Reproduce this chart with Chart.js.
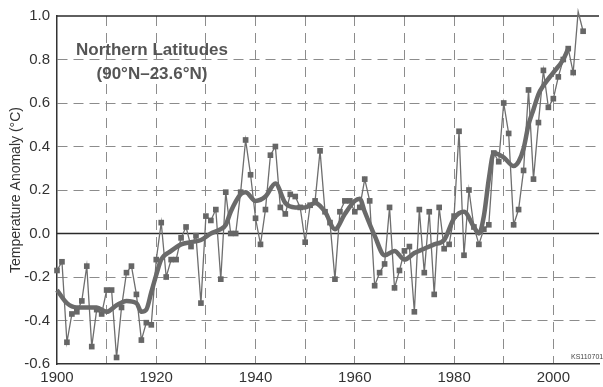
<!DOCTYPE html>
<html>
<head>
<meta charset="utf-8">
<script src="https://cdn.jsdelivr.net/npm/chart.js@4"></script>
<style>
  html, body { margin: 0; padding: 0; background: #fff; }
  #wrap { position: relative; width: 603px; height: 387px; }
  .note { position: absolute; font-family: 'Liberation Sans', Arial, sans-serif; color: #555; }
  #title { left: 62px; top: 38px; width: 180px; text-align: center; font-weight: bold; font-size: 17px; line-height: 24px; }
  #code { left: 571px; top: 353px; font-size: 7px; color: #444; }
</style>
</head>
<body>
<div id="wrap">
  <canvas id="chart" width="603" height="387"></canvas>
  <div id="title" class="note">Northern Latitudes<br>(90°N–23.6°N)</div>
  <div id="code" class="note">KS110701</div>
</div>
<script>
const firstYear = 1900;

// annual anomaly, 1900-2006
const annual = [
  -0.17, -0.13, -0.50, -0.37, -0.36, -0.31, -0.15, -0.52, -0.35, -0.37,
  -0.26, -0.26, -0.57, -0.34, -0.18, -0.15, -0.28, -0.49, -0.41, -0.42,
  -0.12, 0.05, -0.20, -0.12, -0.12, -0.02, 0.03, -0.06, -0.01, -0.32,
  0.08, 0.06, 0.11, -0.21, 0.19, 0.00, 0.00, 0.19, 0.43, 0.27,
  0.07, -0.05, 0.11, 0.36, 0.40, 0.12, 0.09, 0.18, 0.17, 0.12,
  -0.04, 0.13, 0.15, 0.38, 0.10, 0.05, -0.21, 0.10, 0.15, 0.15,
  0.10, 0.12, 0.25, 0.15, -0.24, -0.18, -0.14, 0.12, -0.25, -0.17,
  -0.08, -0.06, -0.36, 0.11, -0.18, 0.10, -0.28, 0.12, -0.07, -0.05,
  0.08, 0.47, -0.10, 0.20, 0.03, -0.05, 0.02, 0.04, 0.37, 0.33,
  0.60, 0.46, 0.04, 0.11, 0.29, 0.66, 0.25, 0.51, 0.75, 0.58,
  0.62, 0.72, 0.80, 0.85, 0.74, 1.02, 0.93
];

// smoothed curve
const smoothYears = [
  1900, 1902, 1904, 1906, 1908, 1910, 1912, 1914, 1916, 1917, 1918, 1919, 1920,
  1921, 1923, 1925, 1927, 1929, 1931, 1933, 1934, 1935, 1937, 1938, 1940, 1942,
  1944, 1946, 1948, 1950, 1952, 1954, 1956, 1958, 1960, 1961, 1962, 1964, 1966,
  1968, 1970, 1972, 1974, 1976, 1978, 1980, 1982, 1984, 1985, 1986, 1987, 1988,
  1990, 1992, 1993, 1994, 1995, 1996, 1997, 1998, 2000, 2002, 2003
];
const smoothValues = [
  -0.26, -0.32, -0.34, -0.34, -0.34, -0.36, -0.33, -0.31, -0.32, -0.36, -0.35, -0.27, -0.19,
  -0.12, -0.08, -0.05, -0.04, -0.03, 0.00, 0.02, 0.04, 0.10, 0.18, 0.19, 0.15, 0.17,
  0.23, 0.14, 0.12, 0.12, 0.14, 0.10, 0.02, 0.09, 0.15, 0.16, 0.10, -0.01, -0.10,
  -0.08, -0.12, -0.09, -0.07, -0.05, -0.03, 0.07, 0.10, 0.03, 0.00, 0.08, 0.25, 0.37,
  0.35, 0.31, 0.33, 0.39, 0.50, 0.57, 0.64, 0.68, 0.74, 0.80, 0.85
];

const xTicks = [1900, 1910, 1920, 1930, 1940, 1950, 1960, 1970, 1980, 1990, 2000];
const xLabels = [1900, 1920, 1940, 1960, 1980, 2000];
const yTicks = [-0.6, -0.4, -0.2, 0, 0.2, 0.4, 0.6, 0.8, 1.0];

const annualPoints = annual.map((v, i) => ({ x: firstYear + i, y: v }));
const smoothPoints = smoothYears.map((yr, i) => ({ x: yr, y: smoothValues[i] }));

// solid lines at 0.0 and 1.0
const refLines = {
  id: 'refLines',
  beforeDatasetsDraw(chart) {
    const { ctx, chartArea, scales } = chart;
    ctx.save();
    ctx.strokeStyle = '#2a2a2a';
    ctx.lineWidth = 1.5;
    [0, 1.0].forEach(v => {
      const y = scales.y.getPixelForValue(v);
      ctx.beginPath();
      ctx.moveTo(chartArea.left, y);
      ctx.lineTo(chartArea.right, y);
      ctx.stroke();
    });
    ctx.restore();
  }
};

const font = { family: "'Liberation Sans', Arial, sans-serif", size: 15 };

new Chart(document.getElementById('chart'), {
  type: 'line',
  data: {
    datasets: [
      {
        data: smoothPoints,
        borderColor: '#6a6a6a',
        borderWidth: 4.5,
        pointRadius: 0,
        tension: 0.4,
        cubicInterpolationMode: 'monotone',
        clip: 8
      },
      {
        data: annualPoints,
        borderColor: '#6e6e6e',
        borderWidth: 1.3,
        pointStyle: 'rect',
        pointRadius: 4,
        pointBackgroundColor: '#666',
        pointBorderWidth: 0,
        tension: 0,
        clip: 8
      }
    ]
  },
  options: {
    responsive: false,
    animation: false,
    layout: { padding: { top: 16, right: 0, left: 0, bottom: 0 } },
    plugins: { legend: { display: false }, tooltip: { enabled: false } },
    scales: {
      x: {
        type: 'linear',
        min: 1900,
        max: 2009.2,
        afterBuildTicks: scale => { scale.ticks = xTicks.map(v => ({ value: v })); },
        afterFit: scale => { scale.height = 23; },
        ticks: {
          autoSkip: false,
          maxRotation: 0,
          padding: 5,
          color: '#333',
          font,
          callback: v => xLabels.includes(v) ? String(v) : ''
        },
        grid: {
          drawTicks: false,
          color: ctx => ctx.tick && ctx.tick.value === 1900 ? 'rgba(0,0,0,0)' : '#8c8c8c',
          lineWidth: 1
        },
        border: { display: true, color: '#333', width: 1.5, dash: [10, 7] }
      },
      y: {
        min: -0.6,
        max: 1.0,
        afterBuildTicks: scale => { scale.ticks = yTicks.map(v => ({ value: v })); },
        afterFit: scale => { scale.width = 57; },
        ticks: {
          padding: 7,
          color: '#333',
          font,
          callback: v => v.toFixed(1)
        },
        grid: {
          drawTicks: false,
          color: ctx => {
            const v = ctx.tick ? ctx.tick.value : null;
            return (v === 0 || v === 1 || v === -0.6) ? 'rgba(0,0,0,0)' : '#8c8c8c';
          },
          lineWidth: 1
        },
        border: { display: true, color: '#333', width: 1.5, dash: [10, 6] },
        title: {
          display: true,
          text: 'Temperature Anomaly (°C)',
          color: '#333',
          font: { family: "'Liberation Sans', Arial, sans-serif", size: 14 },
          padding: { top: 8, bottom: 0 }
        }
      }
    }
  },
  plugins: [refLines]
});
</script>
</body>
</html>
